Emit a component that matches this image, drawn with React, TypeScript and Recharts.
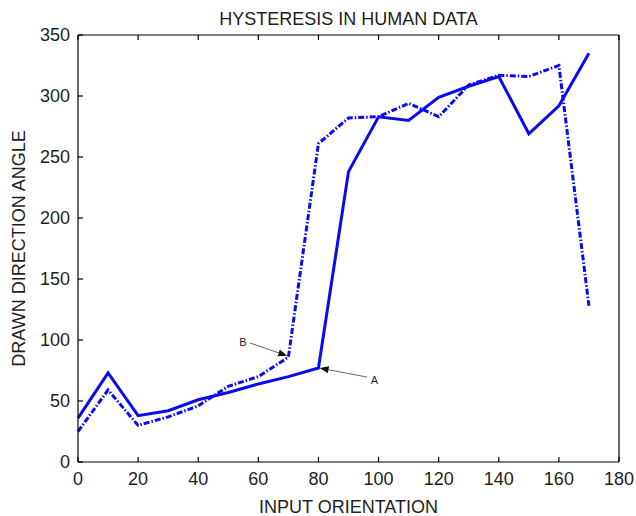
import React from 'react';
import {
  LineChart,
  Line,
  XAxis,
  YAxis,
  ReferenceLine,
  ReferenceDot,
} from 'recharts';

// Input orientation (degrees)
const orientations = [0, 10, 20, 30, 40, 50, 60, 70, 80, 90, 100, 110, 120, 130, 140, 150, 160, 170];
// Drawn direction angle, ascending sweep (solid)
const ascending = [36, 73, 38, 42, 51, 57, 64, 70, 77, 238, 283, 280, 299, 308, 316, 269, 292, 335];
// Drawn direction angle, descending sweep (dash-dot)
const descending = [25, 59, 30, 37, 46, 62, 70, 86, 261, 282, 283, 294, 283, 309, 317, 316, 325, 128];

const xTicks = [0, 20, 40, 60, 80, 100, 120, 140, 160, 180];
const yTicks = [0, 50, 100, 150, 200, 250, 300, 350];

// Annotation arrows: label position, arrow tail, arrow head (data units)
const annotations = [
  { name: 'B', label: { x: 54.9, y: 98.4 }, from: { x: 57.2, y: 97.6 }, to: { x: 69.6, y: 87 } },
  { name: 'A', label: { x: 98.6, y: 67.2 }, from: { x: 96.2, y: 69.6 }, to: { x: 80.4, y: 77 } },
];

const rows = orientations.map((o, i) => ({ o, asc: ascending[i], desc: descending[i] }));

const FONT = '"Liberation Sans", Arial, Helvetica, sans-serif';
const TEXT = '#1e1e1e';
const BLUE = '#0a0af0';
const TICK = 5;
const FS = 18;

const BottomTick = (props: any) => {
  const { x, y, payload } = props;
  return (
    <g>
      <line x1={x} y1={y} x2={x} y2={y - TICK} stroke="#000" strokeWidth={1.2} />
      <text x={x} y={y + 17} textAnchor="middle" dominantBaseline="central" fontSize={FS} fontFamily={FONT} fill={TEXT}>
        {payload.value}
      </text>
    </g>
  );
};

const LeftTick = (props: any) => {
  const { x, y, payload } = props;
  return (
    <g>
      <line x1={x} y1={y} x2={x + TICK} y2={y} stroke="#000" strokeWidth={1.2} />
      <text x={x - 8} y={y} textAnchor="end" dominantBaseline="central" fontSize={FS} fontFamily={FONT} fill={TEXT}>
        {payload.value}
      </text>
    </g>
  );
};

const TopTick = (props: any) => {
  const { x, y } = props;
  return <line x1={x} y1={y} x2={x} y2={y + TICK} stroke="#000" strokeWidth={1.2} />;
};

const RightTick = (props: any) => {
  const { x, y } = props;
  return <line x1={x} y1={y} x2={x - TICK} y2={y} stroke="#000" strokeWidth={1.2} />;
};

const Arrow = (props: any) => {
  const { x1, y1, x2, y2 } = props;
  const dx = x2 - x1;
  const dy = y2 - y1;
  const len = Math.sqrt(dx * dx + dy * dy) || 1;
  const ux = dx / len;
  const uy = dy / len;
  const hl = 9;
  const hw = 3.5;
  const bx = x2 - ux * hl;
  const by = y2 - uy * hl;
  const p1 = `${x2},${y2}`;
  const p2 = `${bx - uy * hw},${by + ux * hw}`;
  const p3 = `${bx + uy * hw},${by - ux * hw}`;
  return (
    <g>
      <line x1={x1} y1={y1} x2={bx} y2={by} stroke="#666" strokeWidth={1} />
      <polygon points={`${p1} ${p2} ${p3}`} fill="#111" />
    </g>
  );
};

const YTitle = (props: any) => {
  const { viewBox } = props;
  const cy = viewBox.y + viewBox.height / 2;
  const cx = 19;
  return (
    <text
      x={cx}
      y={cy}
      transform={`rotate(-90 ${cx} ${cy})`}
      textAnchor="middle"
      dominantBaseline="central"
      fontSize={FS}
      fontFamily={FONT}
      fill={TEXT}
    >
      DRAWN DIRECTION ANGLE
    </text>
  );
};

export default function App() {
  return (
    <div style={{ position: 'absolute', left: 0, top: 0, background: '#fff' }}>
      <LineChart width={636} height={516} data={rows} margin={{ top: 34, right: 16, bottom: 0, left: 0 }}>
        <XAxis
          dataKey="o"
          type="number"
          domain={[0, 180]}
          ticks={xTicks}
          height={54}
          tickSize={0}
          tickMargin={0}
          tickLine={false}
          tick={<BottomTick />}
          axisLine={{ stroke: '#000', strokeWidth: 1.2 }}
          interval={0}
          label={{ value: 'INPUT ORIENTATION', position: 'insideBottom', offset: 3, fontSize: FS, fontFamily: FONT, fill: TEXT }}
        />
        <XAxis
          xAxisId="top"
          orientation="top"
          dataKey="o"
          type="number"
          domain={[0, 180]}
          ticks={xTicks}
          height={1}
          tickSize={0}
          tickMargin={0}
          tickLine={false}
          tick={<TopTick />}
          axisLine={{ stroke: '#000', strokeWidth: 1.2 }}
          interval={0}
          label={{ value: 'HYSTERESIS IN HUMAN DATA', position: 'top', offset: 9, fontSize: FS, fontFamily: FONT, fill: TEXT }}
        />
        <YAxis
          type="number"
          domain={[0, 350]}
          ticks={yTicks}
          width={78}
          tickSize={0}
          tickMargin={0}
          tickLine={false}
          tick={<LeftTick />}
          axisLine={{ stroke: '#000', strokeWidth: 1.2 }}
          interval={0}
          label={<YTitle />}
        />
        <YAxis
          yAxisId="right"
          orientation="right"
          type="number"
          domain={[0, 350]}
          ticks={yTicks}
          width={1}
          tickSize={0}
          tickMargin={0}
          tickLine={false}
          tick={<RightTick />}
          axisLine={{ stroke: '#000', strokeWidth: 1.2 }}
          interval={0}
        />
        <Line
          dataKey="desc"
          type="linear"
          stroke={BLUE}
          strokeWidth={3}
          strokeDasharray="6 2 1.5 2"
          dot={false}
          isAnimationActive={false}
        />
        <Line
          dataKey="asc"
          type="linear"
          stroke={BLUE}
          strokeWidth={3}
          dot={false}
          isAnimationActive={false}
        />
        {annotations.map((a) => (
          <ReferenceLine
            key={`arrow-${a.name}`}
            segment={[a.from, a.to]}
            shape={(p: any) => <Arrow {...p} />}
          />
        ))}
        {annotations.map((a) => (
          <ReferenceDot
            key={`label-${a.name}`}
            x={a.label.x}
            y={a.label.y}
            r={0}
            stroke="none"
            fill="none"
            label={{ value: a.name, position: 'center', fontSize: 11, fontFamily: FONT, fill: '#222' }}
          />
        ))}
      </LineChart>
    </div>
  );
}
